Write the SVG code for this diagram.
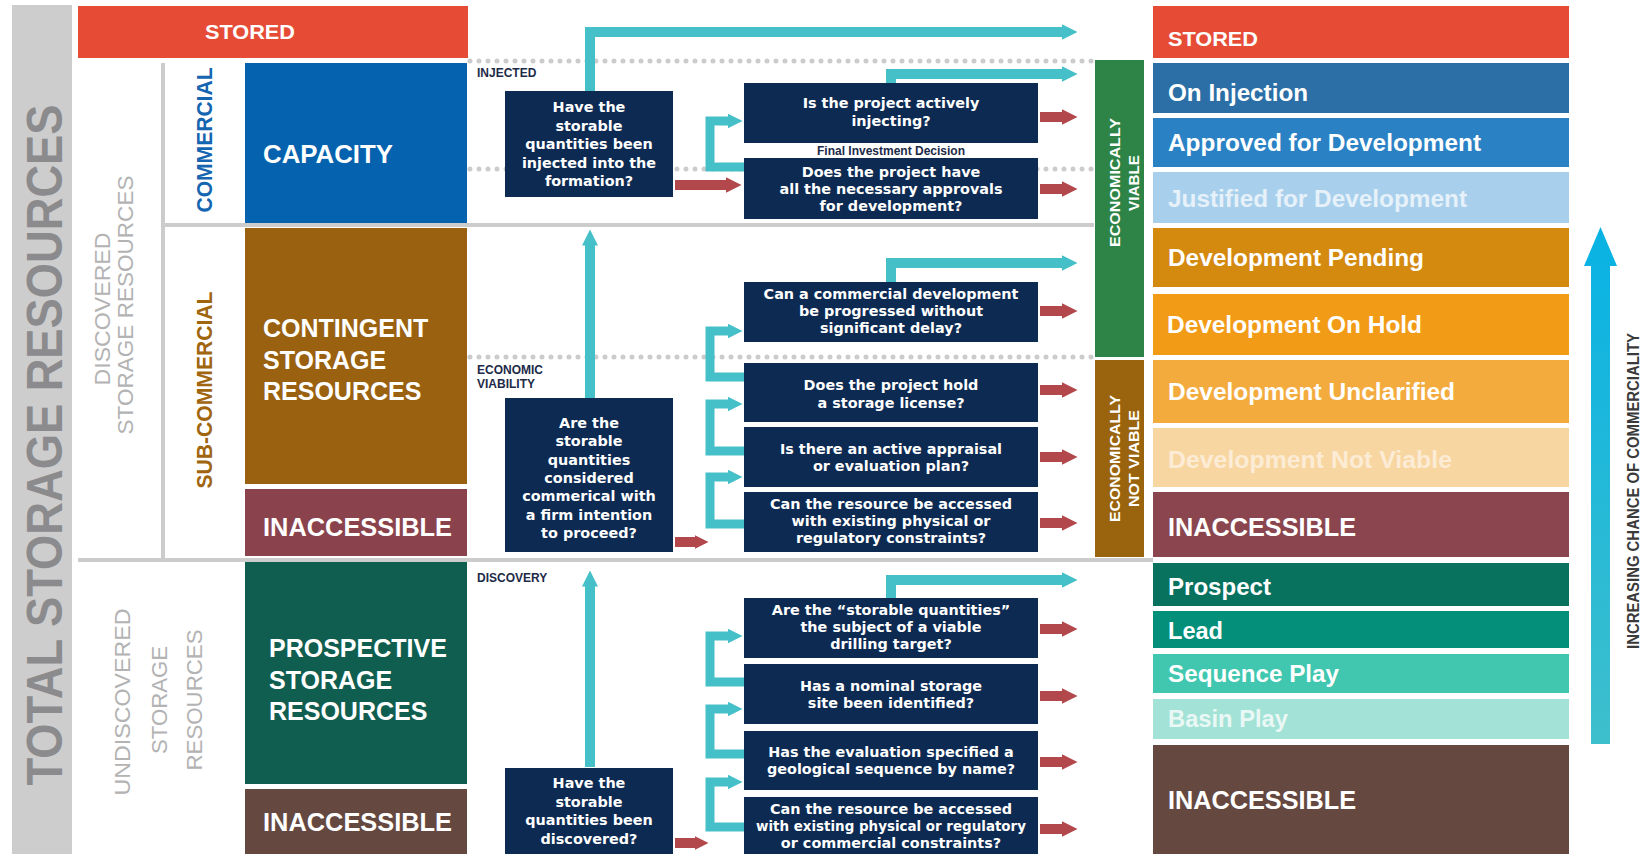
<svg xmlns="http://www.w3.org/2000/svg" width="1643" height="854" viewBox="0 0 1643 854">
<style>
.h{font-family:"Liberation Sans",Arial,sans-serif;font-weight:bold;fill:#fff}
.q{font-family:"DejaVu Sans","Open Sans",sans-serif;font-weight:bold;font-size:14.4px;fill:#fff;text-anchor:middle}
.sm{font-family:"Liberation Sans",Arial,sans-serif;font-weight:bold;font-size:12px;fill:#1d2a48}
.gl{stroke:#cccccc;stroke-width:4;fill:none}
.dot{stroke:#cccccc;stroke-width:5;stroke-linecap:round;stroke-dasharray:0 9;fill:none}
.box{fill:#0c2a52}
.t{stroke:#45c0c8;stroke-width:10;fill:none;stroke-linejoin:miter}
.tb{stroke:#45c0c8;stroke-width:9;fill:none;stroke-linejoin:miter}
.r{stroke:#b2474c;stroke-width:10;fill:none}
.rot{font-family:"Liberation Sans",Arial,sans-serif;text-anchor:middle}
</style>
<defs>
<marker id="ht" markerUnits="userSpaceOnUse" viewBox="0 0 16 16" markerWidth="16" markerHeight="16" refX="0.5" refY="8" orient="auto"><path d="M0,0 L16,8 L0,16 Z" fill="#45c0c8"/></marker>
<marker id="hts" markerUnits="userSpaceOnUse" viewBox="0 0 15 15" markerWidth="15" markerHeight="15" refX="0.5" refY="7.5" orient="auto"><path d="M0,0 L15,7.5 L0,15 Z" fill="#45c0c8"/></marker>
<marker id="hr" markerUnits="userSpaceOnUse" viewBox="0 0 16 16" markerWidth="16" markerHeight="16" refX="0.5" refY="8" orient="auto"><path d="M0,0 L16,8 L0,16 Z" fill="#b2474c"/></marker>
<marker id="hrs" markerUnits="userSpaceOnUse" viewBox="0 0 14 14" markerWidth="14" markerHeight="14" refX="0.5" refY="7" orient="auto"><path d="M0,0 L14,7 L0,14 Z" fill="#b2474c"/></marker>
<linearGradient id="bg" x1="0" y1="0" x2="0" y2="1"><stop offset="0" stop-color="#0bb3e3"/><stop offset="1" stop-color="#3ebfcc"/></linearGradient>
</defs>
<rect width="1643" height="854" fill="#fff"/>

<g id="total">
<rect x="12" y="5" width="60" height="849" fill="#cdcdcd"/>
<text class="rot" transform="translate(62,445) rotate(-90)" font-size="50" font-weight="bold" fill="#8b8b8e" textLength="681" lengthAdjust="spacingAndGlyphs">TOTAL STORAGE RESOURCES</text>
</g>

<g id="grid">
<line class="gl" x1="163" y1="63" x2="163" y2="558"/>
<line class="gl" x1="163" y1="225" x2="1094" y2="225"/>
<line class="gl" x1="78" y1="560" x2="1153" y2="560"/>
<line class="dot" x1="470" y1="61" x2="1096" y2="61"/>
<line class="dot" x1="470" y1="169" x2="1096" y2="169"/>
<line class="dot" x1="470" y1="357" x2="1096" y2="357"/>
</g>

<g id="side-labels">
<text class="rot" transform="translate(110,309) rotate(-90)" font-size="22.5" fill="#b3b3b3" textLength="153" lengthAdjust="spacingAndGlyphs">DISCOVERED</text>
<text class="rot" transform="translate(133,305) rotate(-90)" font-size="22.5" fill="#b3b3b3" textLength="259" lengthAdjust="spacingAndGlyphs">STORAGE RESOURCES</text>
<text class="rot" transform="translate(130,702) rotate(-90)" font-size="22.5" fill="#b3b3b3" textLength="187" lengthAdjust="spacingAndGlyphs">UNDISCOVERED</text>
<text class="rot" transform="translate(167,700) rotate(-90)" font-size="22.5" fill="#b3b3b3" textLength="108" lengthAdjust="spacingAndGlyphs">STORAGE</text>
<text class="rot" transform="translate(202,700) rotate(-90)" font-size="22.5" fill="#b3b3b3" textLength="141" lengthAdjust="spacingAndGlyphs">RESOURCES</text>
<text class="rot" transform="translate(212,140) rotate(-90)" font-size="22" font-weight="bold" fill="#1565b0" textLength="145" lengthAdjust="spacingAndGlyphs">COMMERCIAL</text>
<text class="rot" transform="translate(212,390) rotate(-90)" font-size="22" font-weight="bold" fill="#a0650f" textLength="197" lengthAdjust="spacingAndGlyphs">SUB-COMMERCIAL</text>
</g>

<g id="stored-left">
<rect x="78" y="6" width="390" height="52" fill="#e64b35"/>
<text class="h" x="250" y="39" font-size="21" text-anchor="middle" textLength="90" lengthAdjust="spacingAndGlyphs">STORED</text>
</g>
<g id="capacity">
<rect x="245" y="63" width="222" height="160" fill="#0562ae"/>
<text class="h" x="263" y="163" font-size="25" textLength="130" lengthAdjust="spacingAndGlyphs">CAPACITY</text>
</g>
<g id="contingent">
<rect x="245" y="228" width="222" height="256" fill="#9a6110"/>
<text class="h" font-size="25"><tspan x="263" y="337">CONTINGENT</tspan><tspan x="263" y="369">STORAGE</tspan><tspan x="263" y="400">RESOURCES</tspan></text>
</g>
<g id="inaccessible-sub">
<rect x="245" y="489" width="222" height="67" fill="#8a434c"/>
<text class="h" x="263" y="536" font-size="25" textLength="189" lengthAdjust="spacingAndGlyphs">INACCESSIBLE</text>
</g>
<g id="prospective">
<rect x="245" y="562" width="222" height="222" fill="#105e50"/>
<text class="h" font-size="25"><tspan x="269" y="657">PROSPECTIVE</tspan><tspan x="269" y="689">STORAGE</tspan><tspan x="269" y="720">RESOURCES</tspan></text>
</g>
<g id="inaccessible-und">
<rect x="245" y="789" width="222" height="70" fill="#654840"/>
<text class="h" x="263" y="831" font-size="25" textLength="189" lengthAdjust="spacingAndGlyphs">INACCESSIBLE</text>
</g>

<g id="stage-labels">
<text class="sm" x="477" y="77">INJECTED</text>
<text class="sm" x="477" y="373.5">ECONOMIC</text>
<text class="sm" x="477" y="387.5">VIABILITY</text>
<text class="sm" x="477" y="582">DISCOVERY</text>
<text class="sm" x="891" y="155" text-anchor="middle" font-size="11.5">Final Investment Decision</text>
</g>

<g id="connectors">
<path class="t" d="M590,91 V32 H1062" marker-end="url(#ht)"/>
<path class="t" d="M891,83 V74 H1062" marker-end="url(#ht)"/>
<path class="t" d="M891,282 V263 H1062" marker-end="url(#ht)"/>
<path class="t" d="M891,598 V580 H1062" marker-end="url(#ht)"/>
<path class="t" d="M590,398 V245" marker-end="url(#ht)"/>
<path class="t" d="M590,767 V586" marker-end="url(#ht)"/>
<path class="tb" d="M745,167 H710 V121 H728" marker-end="url(#hts)"/>
<path class="tb" d="M745,377 H710 V331 H728" marker-end="url(#hts)"/>
<path class="tb" d="M745,451 H710 V404 H728" marker-end="url(#hts)"/>
<path class="tb" d="M745,524 H710 V477 H728" marker-end="url(#hts)"/>
<path class="tb" d="M745,682 H710 V636 H728" marker-end="url(#hts)"/>
<path class="tb" d="M745,754 H710 V709 H728" marker-end="url(#hts)"/>
<path class="tb" d="M745,827 H710 V782 H728" marker-end="url(#hts)"/>
<path class="r" d="M675,185 H726" marker-end="url(#hr)"/>
<path class="r" d="M675,542 H695" marker-end="url(#hrs)"/>
<path class="r" d="M675,843 H695" marker-end="url(#hrs)"/>
<path class="r" d="M1040,117 H1062" marker-end="url(#hr)"/>
<path class="r" d="M1040,189 H1062" marker-end="url(#hr)"/>
<path class="r" d="M1040,311 H1062" marker-end="url(#hr)"/>
<path class="r" d="M1040,390 H1062" marker-end="url(#hr)"/>
<path class="r" d="M1040,457 H1062" marker-end="url(#hr)"/>
<path class="r" d="M1040,523 H1062" marker-end="url(#hr)"/>
<path class="r" d="M1040,629 H1062" marker-end="url(#hr)"/>
<path class="r" d="M1040,696 H1062" marker-end="url(#hr)"/>
<path class="r" d="M1040,762 H1062" marker-end="url(#hr)"/>
<path class="r" d="M1040,829 H1062" marker-end="url(#hr)"/>
</g>

<g id="q-injected">
<rect class="box" x="505" y="91" width="168" height="106"/>
<text class="q"><tspan x="589" y="112">Have the</tspan><tspan x="589" y="130.5">storable</tspan><tspan x="589" y="149">quantities been</tspan><tspan x="589" y="167.5">injected into the</tspan><tspan x="589" y="186">formation?</tspan></text>
</g>
<g id="q-commercial">
<rect class="box" x="505" y="398" width="168" height="154"/>
<text class="q"><tspan x="589" y="428">Are the</tspan><tspan x="589" y="446.3">storable</tspan><tspan x="589" y="464.6">quantities</tspan><tspan x="589" y="482.9">considered</tspan><tspan x="589" y="501.2">commerical with</tspan><tspan x="589" y="519.5">a firm intention</tspan><tspan x="589" y="537.8">to proceed?</tspan></text>
</g>
<g id="q-discovered">
<rect class="box" x="505" y="768" width="168" height="90"/>
<text class="q"><tspan x="589" y="788">Have the</tspan><tspan x="589" y="806.5">storable</tspan><tspan x="589" y="825">quantities been</tspan><tspan x="589" y="843.5">discovered?</tspan></text>
</g>

<g id="q-injecting">
<rect class="box" x="744" y="83" width="294" height="60"/>
<text class="q"><tspan x="891" y="108">Is the project actively</tspan><tspan x="891" y="126">injecting?</tspan></text>
</g>
<g id="q-approvals">
<rect class="box" x="744" y="158" width="294" height="61"/>
<text class="q"><tspan x="891" y="176.5">Does the project have</tspan><tspan x="891" y="193.5">all the necessary approvals</tspan><tspan x="891" y="210.5">for development?</tspan></text>
</g>
<g id="q-progressed">
<rect class="box" x="744" y="282" width="294" height="60"/>
<text class="q"><tspan x="891" y="299">Can a commercial development</tspan><tspan x="891" y="316">be progressed without</tspan><tspan x="891" y="333">significant delay?</tspan></text>
</g>
<g id="q-license">
<rect class="box" x="744" y="363" width="294" height="59"/>
<text class="q"><tspan x="891" y="390">Does the project hold</tspan><tspan x="891" y="408">a storage license?</tspan></text>
</g>
<g id="q-appraisal">
<rect class="box" x="744" y="427" width="294" height="60"/>
<text class="q"><tspan x="891" y="454">Is there an active appraisal</tspan><tspan x="891" y="471">or evaluation plan?</tspan></text>
</g>
<g id="q-access1">
<rect class="box" x="744" y="492" width="294" height="60"/>
<text class="q"><tspan x="891" y="509">Can the resource be accessed</tspan><tspan x="891" y="526">with existing physical or</tspan><tspan x="891" y="543">regulatory constraints?</tspan></text>
</g>
<g id="q-target">
<rect class="box" x="744" y="598" width="294" height="60"/>
<text class="q"><tspan x="891" y="615">Are the “storable quantities”</tspan><tspan x="891" y="632">the subject of a viable</tspan><tspan x="891" y="649">drilling target?</tspan></text>
</g>
<g id="q-site">
<rect class="box" x="744" y="664" width="294" height="60"/>
<text class="q"><tspan x="891" y="691">Has a nominal storage</tspan><tspan x="891" y="708">site been identified?</tspan></text>
</g>
<g id="q-sequence">
<rect class="box" x="744" y="731" width="294" height="59"/>
<text class="q"><tspan x="891" y="757">Has the evaluation specified a</tspan><tspan x="891" y="774">geological sequence by name?</tspan></text>
</g>
<g id="q-access2">
<rect class="box" x="744" y="797" width="294" height="62"/>
<text class="q"><tspan x="891" y="814">Can the resource be accessed</tspan><tspan x="891" y="831" textLength="270" lengthAdjust="spacingAndGlyphs">with existing physical or regulatory</tspan><tspan x="891" y="848">or commercial constraints?</tspan></text>
</g>

<g id="econ-viable">
<rect x="1095" y="60" width="49" height="297" fill="#2e8447"/>
<text class="rot" transform="translate(1120,182.5) rotate(-90)" font-size="15.5" font-weight="bold" fill="#fff" textLength="129" lengthAdjust="spacingAndGlyphs">ECONOMICALLY</text>
<text class="rot" transform="translate(1139,183) rotate(-90)" font-size="15.5" font-weight="bold" fill="#fff" textLength="56" lengthAdjust="spacingAndGlyphs">VIABLE</text>
</g>
<g id="econ-not-viable">
<rect x="1095" y="360" width="49" height="197" fill="#9a640f"/>
<text class="rot" transform="translate(1120,458.5) rotate(-90)" font-size="15.5" font-weight="bold" fill="#fff" textLength="127" lengthAdjust="spacingAndGlyphs">ECONOMICALLY</text>
<text class="rot" transform="translate(1139,458.5) rotate(-90)" font-size="15.5" font-weight="bold" fill="#fff" textLength="97" lengthAdjust="spacingAndGlyphs">NOT VIABLE</text>
</g>

<g id="r-stored"><rect x="1153" y="6" width="416" height="52" fill="#e64b35"/><text class="h" x="1168" y="46" font-size="20" textLength="90" lengthAdjust="spacingAndGlyphs">STORED</text></g>
<g id="r-injection"><rect x="1153" y="63" width="416" height="50" fill="#2b6fa6"/><text class="h" x="1168" y="101" font-size="23.5" textLength="140" lengthAdjust="spacingAndGlyphs">On Injection</text></g>
<g id="r-approved"><rect x="1153" y="118" width="416" height="49" fill="#2a82c5"/><text class="h" x="1168" y="151" font-size="23.5" textLength="313" lengthAdjust="spacingAndGlyphs">Approved for Development</text></g>
<g id="r-justified"><rect x="1153" y="172" width="416" height="51" fill="#a8d0ec"/><text class="h" x="1168" y="207" font-size="23.5" style="fill:#e6f1f9" textLength="299" lengthAdjust="spacingAndGlyphs">Justified for Development</text></g>
<g id="r-pending"><rect x="1153" y="228" width="416" height="59" fill="#d4890f"/><text class="h" x="1168" y="266" font-size="23.5" textLength="256" lengthAdjust="spacingAndGlyphs">Development Pending</text></g>
<g id="r-hold"><rect x="1153" y="294" width="416" height="61" fill="#f29b17"/><text class="h" x="1167" y="333" font-size="23.5" textLength="255" lengthAdjust="spacingAndGlyphs">Development On Hold</text></g>
<g id="r-unclarified"><rect x="1153" y="360" width="416" height="63" fill="#f4ab3e"/><text class="h" x="1168" y="400" font-size="23.5" textLength="287" lengthAdjust="spacingAndGlyphs">Development Unclarified</text></g>
<g id="r-notviable"><rect x="1153" y="428" width="416" height="59" fill="#f8d6a2"/><text class="h" x="1168" y="468" font-size="23.5" style="fill:#fcecd6" textLength="284" lengthAdjust="spacingAndGlyphs">Development Not Viable</text></g>
<g id="r-inacc1"><rect x="1153" y="492" width="416" height="65" fill="#8a454e"/><text class="h" x="1168" y="536" font-size="26" textLength="188" lengthAdjust="spacingAndGlyphs">INACCESSIBLE</text></g>
<g id="r-prospect"><rect x="1153" y="563" width="416" height="43" fill="#08725f"/><text class="h" x="1168" y="595" font-size="23.5" textLength="103" lengthAdjust="spacingAndGlyphs">Prospect</text></g>
<g id="r-lead"><rect x="1153" y="611" width="416" height="37" fill="#038f79"/><text class="h" x="1168" y="639" font-size="23.5" textLength="55" lengthAdjust="spacingAndGlyphs">Lead</text></g>
<g id="r-sequence"><rect x="1153" y="654" width="416" height="39" fill="#41c7af"/><text class="h" x="1168" y="682" font-size="23.5" textLength="171" lengthAdjust="spacingAndGlyphs">Sequence Play</text></g>
<g id="r-basin"><rect x="1153" y="699" width="416" height="40" fill="#a3e2d6"/><text class="h" x="1168" y="727" font-size="23.5" style="fill:#eaf8f5" textLength="120" lengthAdjust="spacingAndGlyphs">Basin Play</text></g>
<g id="r-inacc2"><rect x="1153" y="745" width="416" height="112" fill="#654840"/><text class="h" x="1168" y="809" font-size="26" textLength="188" lengthAdjust="spacingAndGlyphs">INACCESSIBLE</text></g>

<g id="commerciality">
<rect x="1591" y="262" width="19" height="482" fill="url(#bg)"/>
<polygon points="1584,266 1600.5,227 1617,266" fill="#0bb3e3"/>
<text class="rot" transform="translate(1639,491) rotate(-90)" font-size="16" font-weight="bold" fill="#3a3a3a" textLength="316" lengthAdjust="spacingAndGlyphs">INCREASING CHANCE OF COMMERCIALITY</text>
</g>
</svg>
